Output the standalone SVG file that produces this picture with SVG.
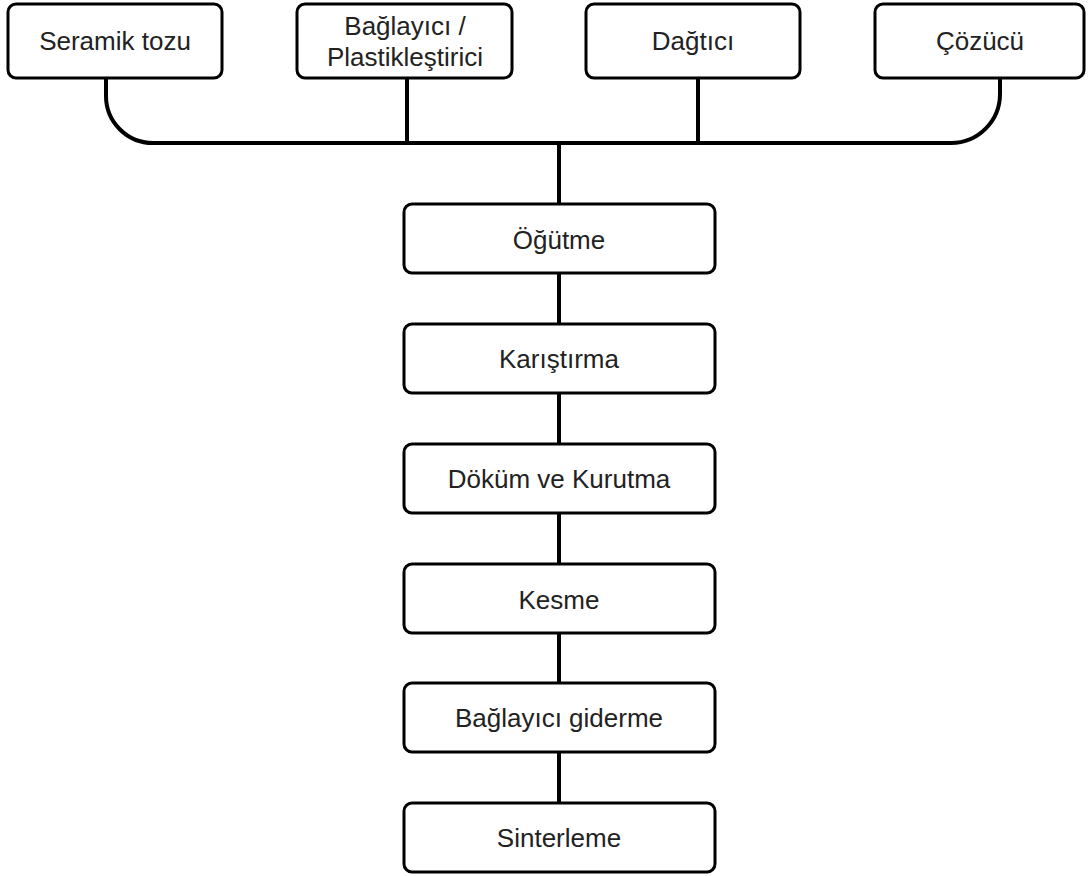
<svg xmlns="http://www.w3.org/2000/svg" width="1090" height="876" viewBox="0 0 1090 876">
<style>
.box{fill:#fff;stroke:#000;stroke-width:3}
.t{font-family:"Liberation Sans",Arial,sans-serif;font-size:26px;fill:#222;text-anchor:middle;dominant-baseline:central}
.c{fill:none;stroke:#000;stroke-width:4}
</style>
<rect width="1090" height="876" fill="#fff"/>
<g id="connectors">
<path class="c" d="M106 78 V96 A47 47 0 0 0 153 143 H951 A49 49 0 0 0 1000 94 V78"/>
<path class="c" d="M407 78 V143 M698 78 V143"/>
<path class="c" d="M559 143 V204 M559 273 V324 M559 393 V444 M559 513 V564 M559 633 V683 M559 752 V803"/>
</g>
<g id="n1"><rect class="box" x="8" y="4" width="214" height="74" rx="8"/><text class="t" x="115" y="41">Seramik tozu</text></g>
<g id="n2"><rect class="box" x="297" y="4" width="215" height="74" rx="8"/><text class="t" x="405" y="26">Bağlayıcı /</text><text class="t" x="405" y="57">Plastikleştirici</text></g>
<g id="n3"><rect class="box" x="586" y="4" width="214" height="74" rx="8"/><text class="t" x="693" y="41">Dağtıcı</text></g>
<g id="n4"><rect class="box" x="875" y="4" width="209" height="74" rx="8"/><text class="t" x="980" y="41">Çözücü</text></g>
<g id="n5"><rect class="box" x="404" y="204" width="311" height="69" rx="8"/><text class="t" x="559" y="240">Öğütme</text></g>
<g id="n6"><rect class="box" x="404" y="324" width="311" height="69" rx="8"/><text class="t" x="559" y="359">Karıştırma</text></g>
<g id="n7"><rect class="box" x="404" y="444" width="311" height="69" rx="8"/><text class="t" x="559" y="479">Döküm ve Kurutma</text></g>
<g id="n8"><rect class="box" x="404" y="564" width="311" height="69" rx="8"/><text class="t" x="559" y="600">Kesme</text></g>
<g id="n9"><rect class="box" x="404" y="683" width="311" height="69" rx="8"/><text class="t" x="559" y="718">Bağlayıcı giderme</text></g>
<g id="n10"><rect class="box" x="404" y="803" width="311" height="69" rx="8"/><text class="t" x="559" y="838">Sinterleme</text></g>
</svg>
